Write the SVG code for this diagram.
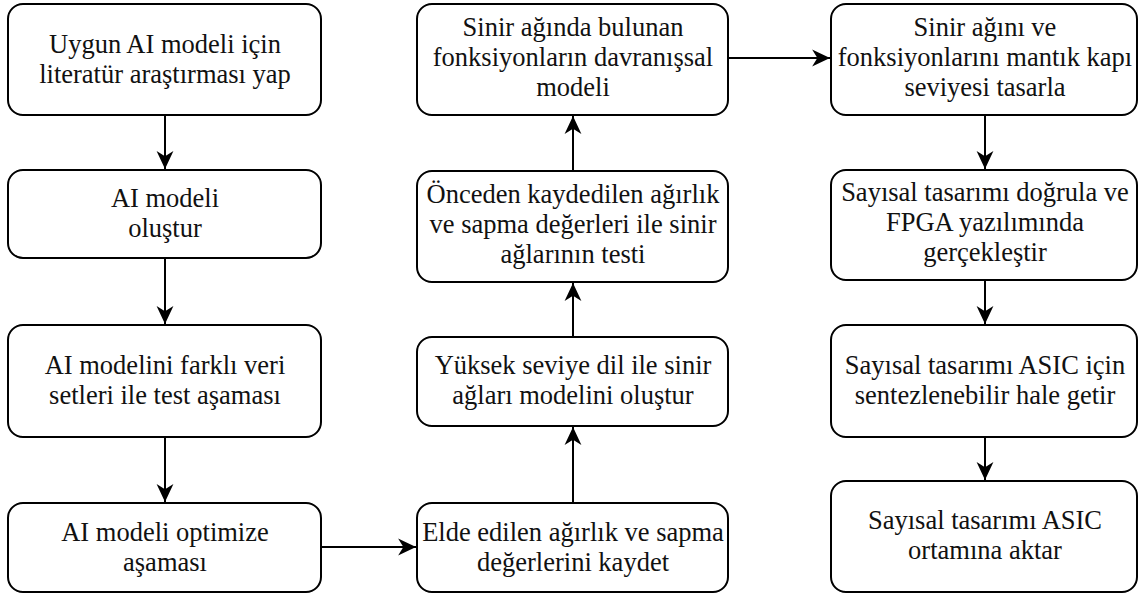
<svg xmlns="http://www.w3.org/2000/svg" width="1139" height="594" viewBox="0 0 1139 594">
<defs>
<style>
.box{fill:#fff;stroke:#000;stroke-width:2}
.t{font-family:'Liberation Serif','Times New Roman',serif;font-size:26.5px;fill:#111;text-anchor:middle}
.c{fill:none;stroke:#000;stroke-width:2}
</style>
<marker id="ah" markerUnits="userSpaceOnUse" markerWidth="20" markerHeight="20" viewBox="-18 -9 19 18" refX="0" refY="0" orient="auto">
<path d="M0,0 L-17,-8 L-12,0 L-17,8 Z" fill="#000"/>
</marker>
</defs>
<rect width="1139" height="594" fill="#fff"/>
<g id="connectors">
<path class="c" d="M165,115 V169" marker-end="url(#ah)"/>
<path class="c" d="M165,258 V324" marker-end="url(#ah)"/>
<path class="c" d="M165,437 V502" marker-end="url(#ah)"/>
<path class="c" d="M321,547 H416" marker-end="url(#ah)"/>
<path class="c" d="M573,503 V427" marker-end="url(#ah)"/>
<path class="c" d="M573,337 V283" marker-end="url(#ah)"/>
<path class="c" d="M573,171 V116" marker-end="url(#ah)"/>
<path class="c" d="M728,58 H830" marker-end="url(#ah)"/>
<path class="c" d="M985,115 V169" marker-end="url(#ah)"/>
<path class="c" d="M985,280 V324" marker-end="url(#ah)"/>
<path class="c" d="M985,437 V480" marker-end="url(#ah)"/>
</g>
<g id="n1"><rect class="box" x="8" y="4" width="313" height="111" rx="15"/>
<text class="t" x="165" y="53">Uygun AI modeli için</text><text class="t" x="165" y="83">literatür araştırması yap</text></g>
<g id="n2"><rect class="box" x="8" y="170" width="313" height="88" rx="15"/>
<text class="t" x="165" y="207">AI modeli</text><text class="t" x="165" y="237">oluştur</text></g>
<g id="n3"><rect class="box" x="8" y="325" width="313" height="112" rx="15"/>
<text class="t" x="165" y="374">AI modelini farklı veri</text><text class="t" x="165" y="404">setleri ile test aşaması</text></g>
<g id="n4"><rect class="box" x="8" y="503" width="313" height="89" rx="15"/>
<text class="t" x="165" y="541">AI modeli optimize</text><text class="t" x="165" y="571">aşaması</text></g>
<g id="nA"><rect class="box" x="417" y="4" width="311" height="111" rx="15"/>
<text class="t" x="573" y="36">Sinir ağında bulunan</text><text class="t" x="573" y="66">fonksiyonların davranışsal</text><text class="t" x="573" y="96">modeli</text></g>
<g id="nB"><rect class="box" x="417" y="171" width="311" height="111" rx="15"/>
<text class="t" x="573" y="203">Önceden kaydedilen ağırlık</text><text class="t" x="573" y="233">ve sapma değerleri ile sinir</text><text class="t" x="573" y="263">ağlarının testi</text></g>
<g id="nC"><rect class="box" x="417" y="337" width="311" height="89" rx="15"/>
<text class="t" x="573" y="374">Yüksek seviye dil ile sinir</text><text class="t" x="573" y="404">ağları modelini oluştur</text></g>
<g id="nD"><rect class="box" x="417" y="503" width="311" height="89" rx="15"/>
<text class="t" x="573" y="541">Elde edilen ağırlık ve sapma</text><text class="t" x="573" y="571">değerlerini kaydet</text></g>
<g id="nE"><rect class="box" x="831" y="4" width="306" height="111" rx="15"/>
<text class="t" x="985" y="36">Sinir ağını ve</text><text class="t" x="985" y="66">fonksiyonlarını mantık kapı</text><text class="t" x="985" y="96">seviyesi tasarla</text></g>
<g id="nF"><rect class="box" x="831" y="170" width="306" height="110" rx="15"/>
<text class="t" x="985" y="201">Sayısal tasarımı doğrula ve</text><text class="t" x="985" y="231">FPGA yazılımında</text><text class="t" x="985" y="261">gerçekleştir</text></g>
<g id="nG"><rect class="box" x="831" y="325" width="306" height="112" rx="15"/>
<text class="t" x="985" y="374">Sayısal tasarımı ASIC için</text><text class="t" x="985" y="404">sentezlenebilir hale getir</text></g>
<g id="nH"><rect class="box" x="831" y="481" width="306" height="111" rx="15"/>
<text class="t" x="985" y="529">Sayısal tasarımı ASIC</text><text class="t" x="985" y="559">ortamına aktar</text></g>
</svg>
